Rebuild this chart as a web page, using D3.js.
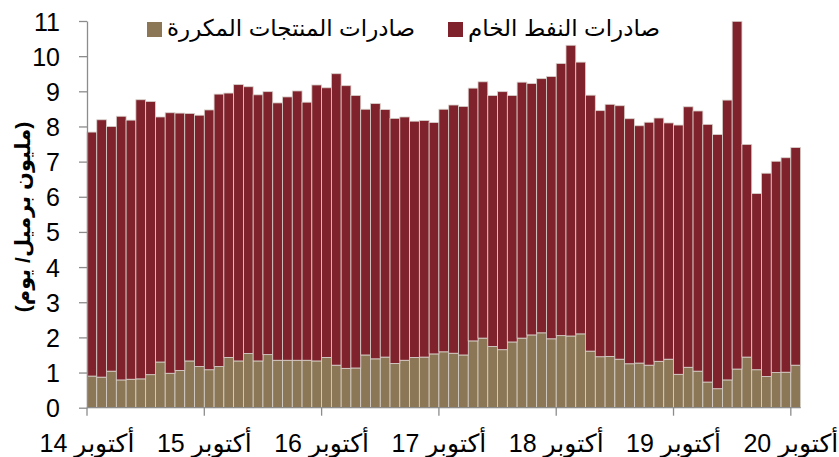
<!DOCTYPE html>
<meta charset="utf-8">
<style>
body { margin: 0; background: #fff; }
svg { font-family: Arial, "Liberation Sans", "DejaVu Sans", sans-serif; }
.axis path, .axis line { stroke: #8c8c8c; stroke-width: 1.3px; fill: none; }
.axis text { fill: #000; }
.bar { stroke: #d8d2cc; stroke-width: 0.8px; }
</style>
<svg width="839" height="457"></svg>
<script src="https://d3js.org/d3.v7.min.js"></script>
<script>

// monthly, Oct 2014 .. Oct 2020
var months = d3.timeMonths(new Date(2014, 9, 1), new Date(2020, 10, 1));

// refined products exports (million b/d)
var products = [0.90, 0.87, 1.04, 0.79, 0.81, 0.82, 0.94, 1.30, 0.98, 1.06, 1.33, 1.17,
  1.08, 1.17, 1.43, 1.33, 1.54, 1.33, 1.51, 1.35, 1.35, 1.35, 1.35, 1.33,
  1.43, 1.21, 1.12, 1.13, 1.50, 1.39, 1.44, 1.26, 1.35, 1.43, 1.44, 1.53,
  1.59, 1.55, 1.50, 1.90, 1.98, 1.74, 1.65, 1.87, 1.98, 2.07, 2.13, 1.96,
  2.05, 2.04, 2.10, 1.61, 1.45, 1.46, 1.38, 1.25, 1.27, 1.21, 1.32, 1.38,
  0.95, 1.15, 1.04, 0.73, 0.54, 0.79, 1.10, 1.44, 1.08, 0.89, 1.00, 1.01,
  1.21];

// crude oil exports (million b/d)
var crude = [6.94, 7.32, 6.96, 7.50, 7.37, 7.94, 7.77, 6.97, 7.41, 7.32, 7.04, 7.15,
  7.39, 7.75, 7.52, 7.86, 7.59, 7.57, 7.48, 7.32, 7.49, 7.66, 7.34, 7.85,
  7.67, 8.29, 8.04, 7.75, 6.99, 7.26, 7.04, 6.97, 6.92, 6.72, 6.73, 6.58,
  6.90, 7.06, 7.07, 7.19, 7.29, 7.14, 7.34, 7.01, 7.28, 7.15, 7.23, 7.46,
  7.74, 8.27, 7.73, 7.28, 7.00, 7.17, 7.21, 6.97, 6.75, 6.91, 6.92, 6.72,
  7.09, 7.41, 7.40, 7.33, 7.23, 7.96, 9.89, 6.05, 5.01, 5.78, 6.01, 6.10,
  6.19];

var tickLabels = ["أكتوبر 14", "أكتوبر 15", "أكتوبر 16", "أكتوبر 17",
  "أكتوبر 18", "أكتوبر 19", "أكتوبر 20"];

var seriesNames = ["صادرات المنتجات المكررة", "صادرات النفط الخام"];
var colors = ["#8b7756", "#7f222b"];

var svg = d3.select("svg");

var x = d3.scaleBand()
    .domain(months)
    .range([87, 800.6])
    .padding(0);

var y = d3.scaleLinear()
    .domain([0, 11])
    .range([407.7, 21]);

var rows = months.map(function(m, i) {
  return { month: m, products: products[i], crude: crude[i] };
});

var stack = d3.stack().keys(["products", "crude"]);
var layers = stack(rows);

var layer = svg.append("g").selectAll("g")
  .data(layers)
  .enter().append("g")
    .attr("fill", function(d, i) { return colors[i]; });

layer.selectAll("rect")
  .data(function(d) { return d; })
  .enter().append("rect")
    .attr("class", "bar")
    .attr("x", function(d) { return x(d.data.month); })
    .attr("width", x.bandwidth())
    .attr("y", function(d) { return y(d[1]); })
    .attr("height", function(d) { return y(d[0]) - y(d[1]); });

// y axis
var yAxis = svg.append("g")
    .attr("class", "axis")
    .attr("transform", "translate(87,0)")
    .call(d3.axisLeft(y).ticks(11).tickSize(8).tickPadding(19).tickSizeOuter(0));
yAxis.selectAll("text")
    .style("font-size", "25px")
    .attr("dy", "0.36em");

// x axis: ticks at each October boundary
var octs = months.filter(function(m) { return m.getMonth() === 9; });
var xAxis = svg.append("g").attr("class", "axis");
xAxis.append("line")
    .attr("x1", x.range()[0]).attr("x2", x.range()[1])
    .attr("y1", y(0)).attr("y2", y(0));
xAxis.selectAll(".tick")
  .data(octs)
  .enter().append("line")
    .attr("x1", function(d) { return x(d); })
    .attr("x2", function(d) { return x(d); })
    .attr("y1", y(0)).attr("y2", y(0) + 8);
xAxis.selectAll("text")
  .data(octs)
  .enter().append("text")
    .attr("x", function(d) { return x(d); })
    .attr("y", 452)
    .attr("text-anchor", "middle")
    .style("font-size", "25px")
    .text(function(d, i) { return tickLabels[i]; });

// y title
svg.append("text")
    .attr("transform", "translate(30,217) rotate(-90)")
    .attr("text-anchor", "middle")
    .style("font-size", "21px")
    .style("font-weight", "bold")
    .text("(مليون برميل/ يوم)");

// legend
var legendPos = [147, 448];
var legend = svg.append("g").selectAll("g")
  .data(seriesNames)
  .enter().append("g")
    .attr("transform", function(d, i) { return "translate(" + legendPos[i] + ",22)"; });
legend.append("rect")
    .attr("width", 15).attr("height", 15)
    .attr("fill", function(d, i) { return colors[i]; });
legend.append("text")
    .attr("x", 20)
    .attr("y", 14)
    .attr("direction", "rtl")
    .attr("text-anchor", "end")
    .style("font-size", "23px")
    .text(function(d) { return d; });

</script>
